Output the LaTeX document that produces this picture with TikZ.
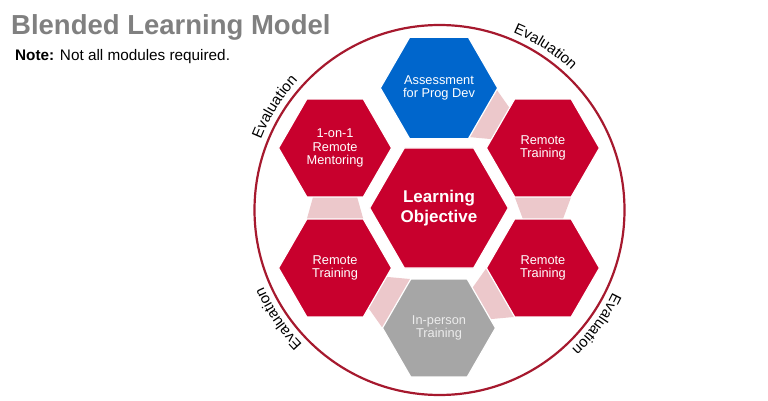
\documentclass[tikz,border=0pt]{standalone}
\usepackage{fontspec}
\setmainfont{Liberation Sans}
\usetikzlibrary{shapes.geometric,calc,decorations.text,backgrounds}
\definecolor{hexred}{RGB}{200,0,45}
\definecolor{hexblue}{RGB}{0,102,204}
\definecolor{hexgray}{RGB}{166,166,166}
\definecolor{linkpink}{RGB}{236,200,203}
\definecolor{ringred}{RGB}{166,25,46}
\definecolor{titlegray}{RGB}{128,128,128}
\definecolor{palegray}{RGB}{236,236,236}
\newcommand\evalfont{\fontsize{15}{16}\selectfont}
% #1 = full-side hex, #2 = trimmed-side hex, #3 = direction from #1 to #2, #4 = half width at #2
\newcommand\hexlink[4]{%
  \fill[linkpink] ($(#1)+(#3:48.9)+(#3+90:28.25)$) -- ($(#1)+(#3:48.9)+(#3-90:28.25)$)
    -- ($(#2)+(#3+180:48.9)+(#3-90:#4)$) -- ($(#2)+(#3+180:48.9)+(#3+90:#4)$) -- cycle;}
\newcommand\evallabel[1]{%
  \path[decorate,decoration={text along path,text align=center,text={|\evalfont|Evaluation}}]
    ($(cc)+(#1+20:192)$) arc[start angle=#1+20,end angle=#1-20,radius=192];}
\begin{document}
\begin{tikzpicture}[x=1pt,y=1pt,
  hexbase/.style={regular polygon,regular polygon sides=6,inner sep=0pt,outer sep=0pt,
    draw=white,line width=1.2pt,align=center,text=white,
    font=\fontsize{12.8}{13.6}\selectfont},
  sat/.style={hexbase,minimum size=113pt},
  ring/.style={draw=ringred,line width=2.2pt}]
\useasboundingbox (0,0) rectangle (768,400);
\coordinate (cc) at (439.5,190);
\draw[ring] (cc) circle[radius=185];

\node[hexbase,minimum size=138.6pt,fill=hexred,font=\bfseries\fontsize{17}{19.5}\selectfont]
  (obj) at (439,192) {Learning\\Objective};
\node[sat,fill=hexblue] (asm) at ($(obj)+(90:120)$) {Assessment\\for Prog Dev};
\node[sat,fill=hexred] (rt1) at ($(obj)+(30:120)$) {Remote\\Training};
\node[sat,fill=hexred] (rt2) at ($(obj)+(-30:120)$) {Remote\\Training};
\node[sat,fill=hexgray,text=palegray] (inp) at ($(obj)+(-90:120)$) {In-person\\Training};
\node[sat,fill=hexred] (rt3) at ($(obj)+(-150:120)$) {Remote\\Training};
\node[sat,fill=hexred] (men) at ($(obj)+(150:120)$) {1-on-1\\Remote\\Mentoring};

\begin{scope}[on background layer]
  \hexlink{asm}{rt1}{-30}{18}
  \hexlink{rt1}{rt2}{-90}{20}
  \hexlink{rt2}{inp}{-150}{18}
  \hexlink{inp}{rt3}{150}{18}
  \hexlink{rt3}{men}{90}{22}
\end{scope}

\evallabel{57}
\evallabel{148}
\evallabel{214}
\evallabel{324}

\node[anchor=base west,inner sep=0pt,text=titlegray,font=\bfseries\fontsize{27.5}{30}\selectfont]
  (title) at (11,365) {Blended Learning Model};
\node[anchor=base west,inner sep=0pt,font=\fontsize{15.3}{17}\selectfont]
  (note) at (15,339) {\textbf{Note:} Not all modules required.};
\end{tikzpicture}
\end{document}
